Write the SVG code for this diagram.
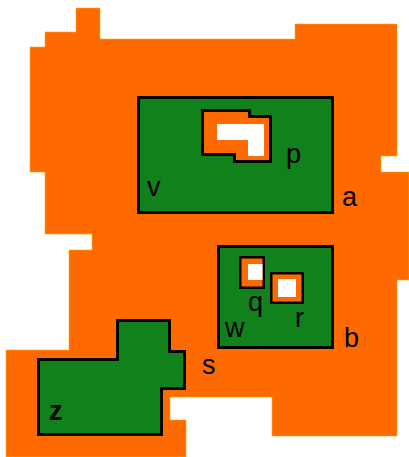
<svg xmlns="http://www.w3.org/2000/svg" width="409" height="457" viewBox="0 0 409 457">
<style>
.land{fill:#FF6A00;stroke:#FFB000;stroke-width:0.6}
.green{fill:#11811B;stroke:#000;stroke-width:3;stroke-linejoin:miter}
.hole{fill:#FF6A00;stroke:#000;stroke-width:3}
.hole2{fill:#FF6A00;stroke:#000;stroke-width:2.5}
.white{fill:#FFFFFF}
.lbl{font-family:"Liberation Sans",Arial,sans-serif;font-size:27px;fill:#000}
</style>
<rect width="409" height="457" fill="#FFFFFF"/>
<g id="land">
<polygon class="land" points="76,8 100,8 100,39 295,39 295,24 397,24 397,156 381,156 381,172 409,172 409,280 397,280 397,436 272,436 272,397 170,397 170,420 186,420 186,457 6,457 6,350 69,350 69,250 92,250 92,234 45,234 45,172 30,172 30,47 45,47 45,32 76,32"/>
</g>
<g id="region-v">
<rect class="green" x="138.5" y="97.5" width="194" height="115"/>
</g>
<g id="region-p">
<polygon class="hole" points="202.5,110.5 249.5,110.5 249.5,116.5 270.5,116.5 270.5,161.5 234.5,161.5 234.5,154.5 202.5,154.5"/>
<polygon class="white" points="217,124 264,124 264,156 248,156 248,140 217,140"/>
</g>
<g id="region-w">
<rect class="green" x="218.5" y="246.5" width="114" height="101"/>
</g>
<g id="region-q">
<rect class="hole2" x="240.25" y="257.25" width="23.5" height="30.5"/>
<rect class="white" x="248" y="264" width="14.5" height="16"/>
</g>
<g id="region-r">
<rect class="hole2" x="271.25" y="273.25" width="31.5" height="29.5"/>
<rect class="white" x="278" y="279" width="18" height="18"/>
</g>
<g id="region-z">
<polygon class="green" points="38.5,359.5 117.5,359.5 117.5,320.5 169.5,320.5 169.5,351.5 184.5,351.5 184.5,388.5 161.5,388.5 161.5,434.5 38.5,434.5"/>
</g>
<g id="connectors"></g>
<g id="labels">
<text class="lbl" x="147" y="196">v</text>
<text class="lbl" x="342" y="206">a</text>
<text class="lbl" x="286" y="163">p</text>
<text class="lbl" x="248" y="311">q</text>
<text class="lbl" x="295" y="327">r</text>
<text class="lbl" x="225" y="337">w</text>
<text class="lbl" x="344" y="347">b</text>
<text class="lbl" x="202" y="374">s</text>
<text class="lbl" x="49" y="420" font-weight="bold">z</text>
</g>
</svg>
